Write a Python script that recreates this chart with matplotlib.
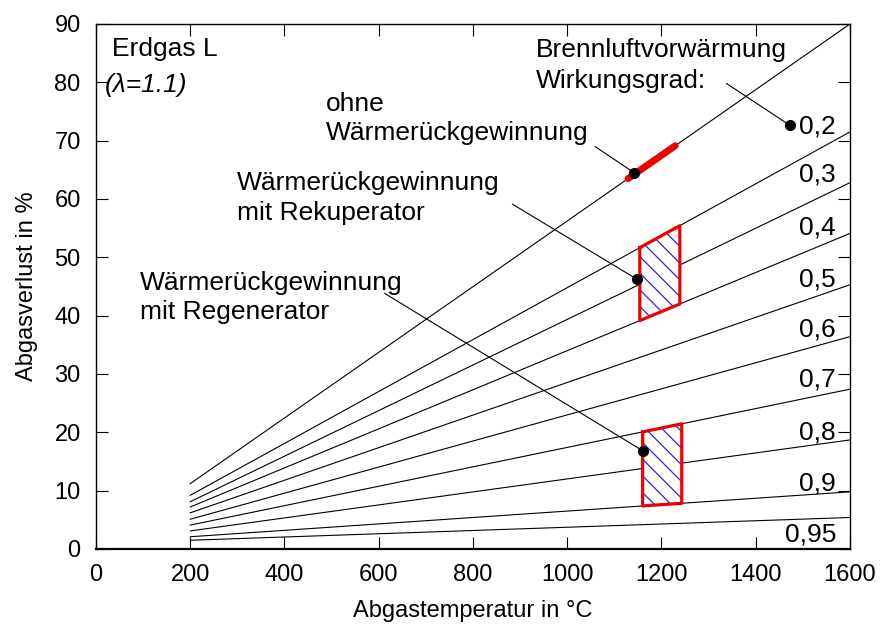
import numpy as np
import matplotlib
matplotlib.use("Agg")
import matplotlib.pyplot as plt

plt.rcParams['font.family'] = ['Liberation Sans', 'DejaVu Sans']
plt.rcParams['hatch.linewidth'] = 0.9

# ---------------------------------------------------------
# data
# ---------------------------------------------------------
x_ends = [200, 1600]
eta = [0.0, 0.2, 0.3, 0.4, 0.5, 0.6, 0.7, 0.8, 0.9, 0.95]
y_start = [11.2, 9.2, 8.1, 7.2, 6.2, 5.1, 4.1, 3.1, 2.1, 1.5]
y_end = [90.0, 71.5, 62.8, 54.1, 45.3, 36.4, 27.4, 18.7, 9.8, 5.4]

eta_labels = ['0,2', '0,3', '0,4', '0,5', '0,6', '0,7', '0,8', '0,9', '0,95']
label_x = [1492, 1492, 1492, 1492, 1492, 1492, 1492, 1492, 1462]
label_y = [71.3, 63.0, 53.9, 45.0, 36.5, 27.8, 18.7, 10.1, 1.3]

ohne_x = [1129, 1229]              # red segment on the eta=0 line
rek_x, rek_eta = [1154, 1239], (0.2, 0.4)
reg_x, reg_eta = [1160, 1243], (0.7, 0.9)

# annotation: (text start, dot)
ann_ohne = [(1059, 69.0), (1142, 64.5)]
ann_rek = [(884, 59.1), (1147, 46.3)]
ann_reg = [(613, 43.8), (1161, 16.8)]
ann_brenn = [(1338, 79.8), (1473, 72.6)]


def line_y(e, x):
    i = eta.index(e)
    return np.interp(x, x_ends, [y_start[i], y_end[i]])


fig = plt.figure(figsize=(8.82, 6.38), dpi=100)
ax = fig.add_axes([0.1088, 0.1395, 0.8549, 0.8229])

for i in range(len(eta)):
    ax.plot(x_ends, [y_start[i], y_end[i]], color='black', lw=0.8)

# ohne Waermerueckgewinnung
ax.plot(ohne_x, line_y(0.0, np.array(ohne_x)), color='#ee0000', lw=5,
        solid_capstyle='round', zorder=3)

# hatched bands
for xs, (e1, e2) in [(rek_x, rek_eta), (reg_x, reg_eta)]:
    xs = np.array(xs)
    top = line_y(e1, xs)
    bot = line_y(e2, xs)
    px = [xs[0], xs[1], xs[1], xs[0], xs[0]]
    py = [top[0], top[1], bot[1], bot[0], top[0]]
    ax.fill(px, py, facecolor='white', edgecolor='#2a2ac8', hatch='\\\\',
            lw=0, zorder=3)
    ax.plot(px, py, color='#ee0000', lw=2.3, zorder=4)

for a, b in [ann_ohne, ann_rek, ann_reg, ann_brenn]:
    ax.plot([a[0], b[0]], [a[1], b[1]], color='black', lw=0.8, zorder=5)
    ax.plot(b[0], b[1], 'o', color='black', ms=7, zorder=6)

for t, x, y in zip(eta_labels, label_x, label_y):
    ax.text(x, y, t, fontsize=19, va='baseline', ha='left')

ax.text(34, 84.5, 'Erdgas L', fontsize=19, va='baseline')
ax.text(19, 78.4, '(λ=1.1)', fontsize=19, va='baseline', style='italic')
ax.text(488, 75.1, 'ohne', fontsize=19, va='baseline')
ax.text(488, 70.1, 'Wärmerückgewinnung', fontsize=19, va='baseline')
ax.text(299, 61.5, 'Wärmerückgewinnung', fontsize=19, va='baseline')
ax.text(299, 56.4, 'mit Rekuperator', fontsize=19, va='baseline')
ax.text(93, 44.4, 'Wärmerückgewinnung', fontsize=19, va='baseline')
ax.text(93, 39.4, 'mit Regenerator', fontsize=19, va='baseline')
ax.text(934, 84.3, 'Brennluftvorwärmung', fontsize=19, va='baseline')
ax.text(934, 79.1, 'Wirkungsgrad:', fontsize=19, va='baseline')

ax.set_xlim(0, 1600)
ax.set_ylim(0, 90)
ax.set_xticks(range(0, 1601, 200))
ax.set_yticks(range(0, 91, 10))
ax.tick_params(direction='in', length=8.5, width=0.8, labelsize=17, pad=11,
               top=True, right=True)
for s in ax.spines.values():
    s.set_linewidth(1.0)
ax.spines['bottom'].set_linewidth(1.6)

ax.set_xlabel('Abgastemperatur in °C', fontsize=17, labelpad=10)
ax.set_ylabel('Abgasverlust in %', fontsize=17, labelpad=12)

fig.savefig('out.png', dpi=100)
